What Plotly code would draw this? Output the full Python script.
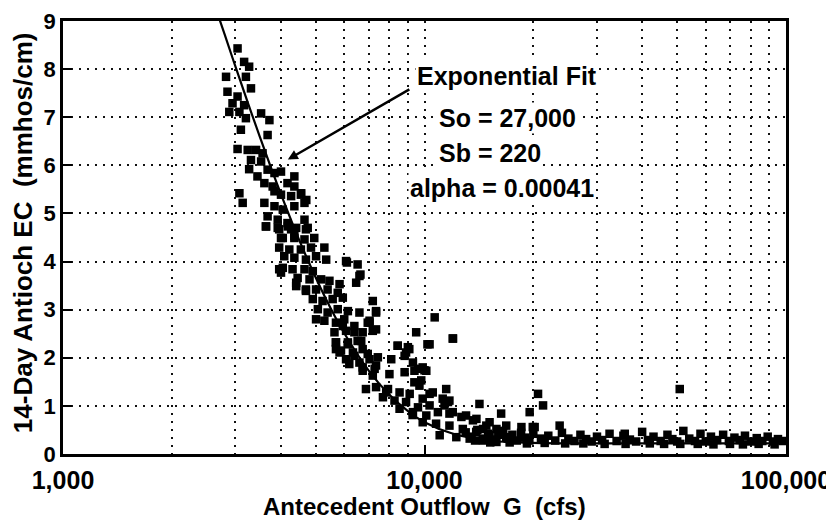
import plotly.graph_objects as go

outflow_cfs = [
    3040, 3170, 3273, 2825, 3206, 3311, 2851, 3040, 2944, 3170, 2884, 3076, 3206, 3532, 3724, 3105,
    3681, 3040, 3243, 3420, 3565, 3311, 3532, 3273, 3681, 3451, 3846, 4009, 4365, 3606, 3802, 4178,
    4365, 3076, 3141, 3846, 4009, 4276, 4550, 3606, 3846, 4055, 4365, 4656, 3681, 3926, 4178, 4656,
    3639, 3963, 4276, 4753, 4009, 4365, 4560, 4710,
    3648, 3926, 4188, 4416, 4699, 4055, 4365, 4656, 4955, 3963, 4227, 4550, 4853, 5284, 4093, 4365,
    4699, 5012, 5346, 4055, 4315, 4656, 4909, 6067, 6531, 4009, 4457, 4808, 5176, 5458, 5821, 6607,
    6471, 4416, 4699, 5012, 5395, 5754, 4909, 5224, 5572, 5943, 7194, 5070, 5395, 5754, 6138, 6607,
    7345, 5284, 5689, 5998, 6966, 7194, 5636, 6067, 6397, 6745, 5689, 6138, 6531, 5875, 6339, 6745,
    6067, 6607, 7047, 7345, 6745, 7194,
    6100, 6650, 7345, 7047, 7345, 9484, 8433, 9078, 10190, 3963, 4416, 4699, 5012, 5689, 6887, 7834, 9270,
    5943, 6397, 7047, 11995, 5689, 6138, 6683, 8433, 8995, 10328, 5821, 6397, 6966, 7430, 8091, 8810,
    9594, 10116, 8810, 6194, 6745, 7278, 7998, 9376, 9795, 11482, 10328, 7345, 7925, 8531, 9099, 9886,
    7674, 8260, 8892, 9594, 10328, 11614, 14191, 16293, 8531, 9290, 10116, 10890, 11722, 12647, 13614,
    14825, 15812, 16482, 9886, 10765, 11722, 12764, 13900, 15136, 16827, 11015, 12246, 13335, 14521, 15812,
    10670, 11970, 10000, 9380, 11720, 19540, 20610, 21280, 20170, 23650, 50820, 16830, 11360,
    8892, 9290, 9886, 9683, 10540, 11230, 11970, 13030, 13920, 15136, 14520, 18540, 19930, 35800,
    13000, 13500, 14000, 14500, 15000, 15500, 16000, 16500, 17000, 17500, 18000, 18500, 19000, 19500,
    20000, 21000, 22000, 23000, 24000, 25000, 26000, 27000, 28000, 29000, 30000, 31000, 32500, 34000,
    35500, 37000, 38500, 40000, 41500, 43000, 45000, 47000, 48500, 50000, 52000, 54000, 56000, 58000,
    60000, 62000, 64500, 67000, 69500, 72000, 74500, 77000, 80000, 83000, 86000, 89000, 92000, 95000, 98000,
    13800, 15200, 17200, 19200, 21500, 24500, 27500, 31500, 36000, 42000, 46000, 51000, 57000, 63000,
    70000, 76000, 84000, 93000,
]
ec_mmhos = [
    8.43, 8.15, 8.05, 7.84, 7.84, 7.60, 7.53, 7.43, 7.29, 7.25, 7.11, 7.11, 6.98, 7.08, 6.94, 6.74,
    6.63, 6.34, 6.32, 6.32, 6.25, 6.11, 6.08, 5.92, 5.91, 5.77, 5.84, 5.87, 5.77, 5.63, 5.56, 5.63,
    5.56, 5.42, 5.22, 5.46, 5.39, 5.36, 5.39, 5.22, 5.15, 5.08, 5.15, 5.22, 4.94, 4.87, 4.80, 4.87,
    4.73, 4.67, 4.67, 4.70, 4.49, 4.53, 5.42, 5.28,
    4.73, 4.70, 4.73, 4.70, 4.67, 4.49, 4.49, 4.46, 4.49, 4.29, 4.25, 4.25, 4.29, 4.29, 4.11, 4.08,
    4.04, 4.11, 4.04, 3.87, 3.84, 3.84, 3.80, 4.01, 3.94, 3.77, 3.66, 3.63, 3.63, 3.60, 3.53, 3.70,
    3.56, 3.49, 3.39, 3.42, 3.42, 3.35, 3.22, 3.18, 3.22, 3.25, 3.18, 3.01, 2.94, 3.01, 2.97, 2.94,
    2.94, 2.77, 2.73, 2.80, 2.73, 2.56, 2.53, 2.56, 2.53, 2.53, 2.32, 2.32, 2.35, 2.15, 2.11, 2.18,
    1.97, 1.90, 1.97, 1.84, 1.73, 1.63,
    3.98, 3.73, 2.97, 2.77, 2.59, 2.53, 2.25, 2.18, 2.28, 3.84, 3.56, 3.42, 2.80, 2.18, 1.35, 1.28, 0.81,
    2.66, 2.66, 2.73, 2.40, 2.32, 2.28, 2.35, 2.25, 2.22, 2.28, 2.11, 2.04, 2.08, 2.01, 1.97, 2.04,
    1.77, 1.73, 1.70, 1.87, 1.80, 1.77, 1.66, 1.49, 1.53, 1.35, 1.25, 1.39, 1.35, 1.28, 1.25, 1.15,
    1.18, 1.11, 1.08, 0.97, 1.01, 1.08, 1.04, 0.84, 0.94, 0.87, 0.80, 0.87, 0.84, 0.77, 0.70,
    0.59, 0.52, 0.46, 0.66, 0.63, 0.59, 0.52, 0.46, 0.39, 0.35, 0.39, 0.35, 0.32, 0.28, 0.25,
    2.84, 2.40, 1.74, 1.73, 1.11, 0.87, 1.25, 1.01, 0.56, 0.59, 1.35, 0.59, 1.01,
    2.11, 1.90, 1.80, 1.42, 1.28, 1.15, 0.87, 0.80, 0.73, 0.66, 0.52, 0.56, 0.56, 0.42,
    0.45, 0.36, 0.50, 0.32, 0.42, 0.30, 0.40, 0.48, 0.32, 0.40, 0.28, 0.44, 0.34, 0.28,
    0.42, 0.32, 0.38, 0.28, 0.44, 0.32, 0.27, 0.40, 0.31, 0.26, 0.36, 0.29, 0.42, 0.27,
    0.38, 0.30, 0.26, 0.46, 0.29, 0.36, 0.27, 0.40, 0.31, 0.26, 0.48, 0.32, 0.27, 0.42,
    0.26, 0.36, 0.29, 0.40, 0.27, 0.34, 0.29, 0.38, 0.26, 0.33, 0.27, 0.36, 0.26, 0.31, 0.27,
    0.28, 0.24, 0.24, 0.22, 0.23, 0.22, 0.22, 0.21, 0.21, 0.22, 0.21, 0.21, 0.21, 0.20,
    0.21, 0.20, 0.21, 0.20,
]

# exponential fit curve (So = 27,000, Sb = 220, alpha = 0.00041)
fit_g = [2700, 2800, 3000, 3250, 3500, 3750, 4000, 4500, 5000, 5500, 6000, 7000, 8000, 9000,
         10000, 12000, 15000, 20000, 30000, 100000]
fit_ec = [9.07, 8.72, 8.05, 7.29, 6.60, 5.98, 5.42, 4.45, 3.67, 3.03, 2.51, 1.74, 1.23, 0.89,
          0.66, 0.42, 0.28, 0.23, 0.22, 0.22]

x_tickvals = [1000, 10000, 100000]
x_ticktext = ["1,000", "10,000", "100,000"]
x_minor = [2000, 3000, 4000, 5000, 6000, 7000, 8000, 9000,
           20000, 30000, 40000, 50000, 60000, 70000, 80000, 90000]
y_tickvals = [0, 1, 2, 3, 4, 5, 6, 7, 8, 9]

FONT = "Liberation Sans"
grid = dict(showgrid=True, gridcolor="#111", gridwidth=1.6, griddash="2px,6px")

def f(size):
    return dict(family=FONT, size=size, color="black", weight="bold")

fig = go.Figure()
fig.add_trace(go.Scatter(
    x=outflow_cfs, y=ec_mmhos, mode="markers",
    marker=dict(symbol="square", size=8.5, color="black", line=dict(width=0)),
    showlegend=False, hoverinfo="skip"))
fig.add_trace(go.Scatter(
    x=fit_g, y=fit_ec, mode="lines", line=dict(color="black", width=2.2, shape="spline"),
    showlegend=False, hoverinfo="skip"))

fig.update_layout(
    width=834, height=530,
    margin=dict(l=55, r=56, t=13, b=84, autoexpand=False),
    paper_bgcolor="white", plot_bgcolor="white",
    font=f(22),
    xaxis=dict(
        type="log", range=[3, 5], tickvals=x_tickvals, ticktext=x_ticktext,
        ticks="inside", ticklen=9, tickwidth=2, tickcolor="black", automargin=False,
        ticklabeloverflow="allow", ticklabelstandoff=2,
        showline=True, linewidth=2.5, linecolor="black", mirror=True, zeroline=False,
        tickfont=f(25),
        minor=dict(tickvals=x_minor, ticks="", **grid),
        **grid),
    yaxis=dict(
        range=[0, 9], tickvals=y_tickvals, automargin=False, ticklabeloverflow="allow",
        ticks="inside", ticklen=9, tickwidth=2, tickcolor="black",
        showline=True, linewidth=2.5, linecolor="black", mirror=True, zeroline=False,
        tickfont=f(22),
        **grid),
)

fig.add_annotation(text="Exponential Fit", xref="paper", yref="paper", x=0.614, y=0.873,
                   xanchor="center", yanchor="middle", showarrow=False, font=f(25), bgcolor="white")
fig.add_annotation(text="So = 27,000", xref="paper", yref="paper", x=0.517, y=0.776,
                   xanchor="left", yanchor="middle", showarrow=False, font=f(25), bgcolor="white")
fig.add_annotation(text="Sb = 220", xref="paper", yref="paper", x=0.517, y=0.696,
                   xanchor="left", yanchor="middle", showarrow=False, font=f(25), bgcolor="white")
fig.add_annotation(text="alpha = 0.00041", xref="paper", yref="paper", x=0.607, y=0.615,
                   xanchor="center", yanchor="middle", showarrow=False, font=f(25), bgcolor="white")
# pointer from the label to the fitted curve
fig.add_annotation(text="", xref="paper", yref="paper", x=0.311, y=0.680,
                   ax=123, ay=-71, showarrow=True, arrowhead=2, arrowsize=0.8,
                   arrowwidth=2.5, arrowcolor="black")
# axis titles
fig.add_annotation(text="Antecedent Outflow\u00a0\u00a0G\u00a0\u00a0(cfs)", xref="paper", yref="paper",
                   x=0.5, y=-0.122, xanchor="center", yanchor="middle", showarrow=False, font=f(24))
fig.add_annotation(text="14-Day Antioch EC\u00a0\u00a0(mmhos/cm)", xref="paper", yref="paper",
                   x=-0.0553, y=0.51, xanchor="center", yanchor="middle", showarrow=False,
                   textangle=-90, font=f(26))

fig.write_html("out.html")
